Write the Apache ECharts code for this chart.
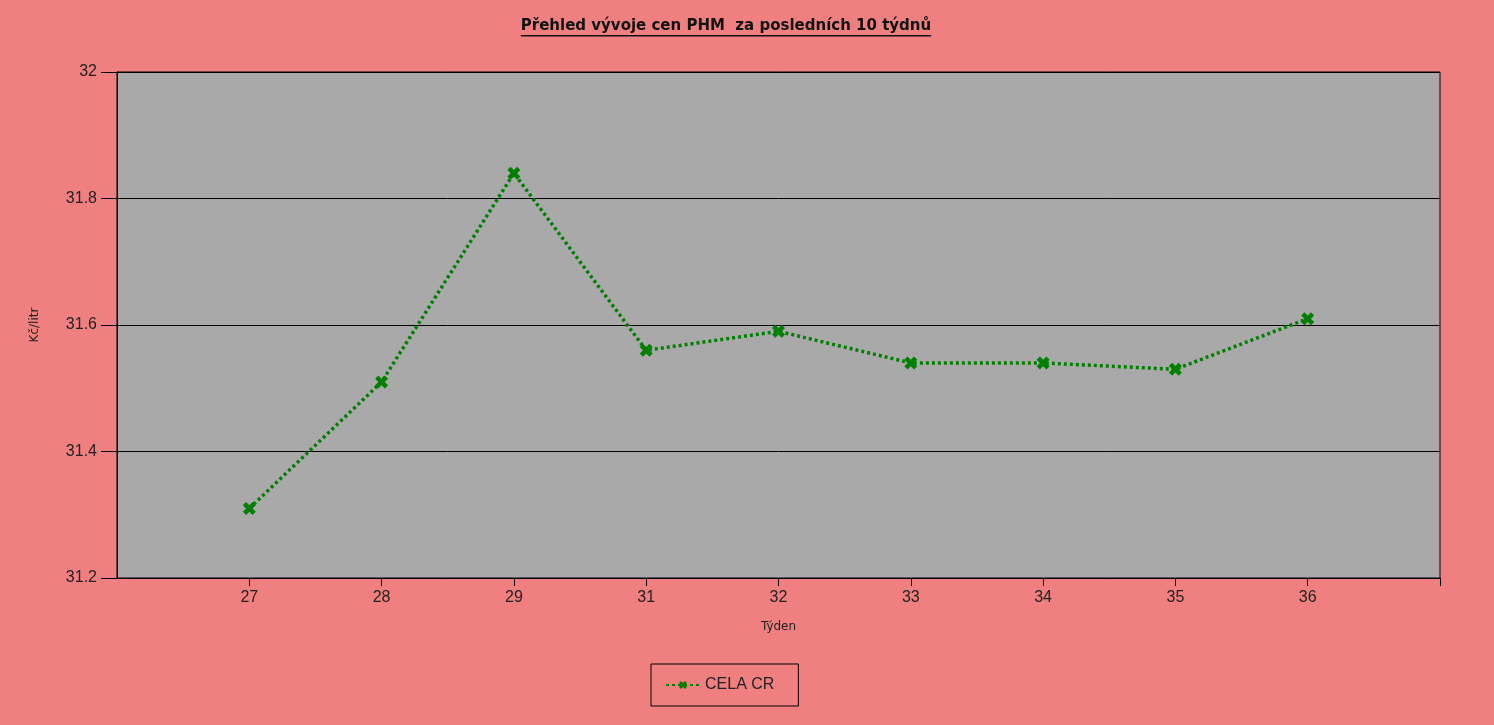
<!DOCTYPE html>
<html>
<head>
<meta charset="utf-8">
<style>
  html, body { margin: 0; padding: 0; background: #F08080; }
  #chart { width: 1494px; height: 725px; }
</style>
<script src="https://cdn.jsdelivr.net/npm/echarts@6/dist/echarts.min.js"></script>
</head>
<body>
<div id="chart"></div>
<script>
const TITLE = 'Přehled vývoje cen PHM  za posledních 10 týdnů';
const weeks = ['27', '28', '29', '31', '32', '33', '34', '35', '36'];
const prices = [31.31, 31.51, 31.84, 31.56, 31.59, 31.54, 31.54, 31.53, 31.61];
const seriesName = 'CELA CR';

// one empty slot at each end, the axis runs half a step past the data on both sides
const categories = [''].concat(weeks, ['']);
const values = [null].concat(prices, [null]);

const X_MARK = 'path://M2.5,0 L5,2.5 L7.5,0 L10,2.5 L7.5,5 L10,7.5 L7.5,10 L5,7.5 L2.5,10 L0,7.5 L2.5,5 L0,2.5 Z';
const titleFont = 'bold 15px "DejaVu Sans"';

function textWidth(text, font) {
  const ctx = document.createElement('canvas').getContext('2d');
  ctx.font = font;
  return ctx.measureText(text).width;
}

const titleW = textWidth(TITLE, titleFont);
const chart = echarts.init(document.getElementById('chart'));

chart.setOption({
  backgroundColor: '#F08080',
  animation: false,
  graphic: [
    {
      type: 'group',
      left: 726 - titleW / 2,
      top: 19,
      children: [
        {
          type: 'text',
          left: 0,
          top: 0,
          style: {
            text: TITLE,
            font: titleFont,
            fill: '#111'
          }
        },
        {
          type: 'rect',
          shape: { x: 0, y: 16, width: titleW, height: 1.5 },
          style: { fill: '#111' }
        }
      ]
    }
  ],
  grid: {
    left: 117,
    right: 54,
    top: 72,
    bottom: 147,
    show: true,
    backgroundColor: '#A9A9A9',
    borderColor: '#000',
    borderWidth: 1
  },
  legend: {
    bottom: 19,
    left: 651,
    data: [seriesName],
    borderColor: '#000',
    borderWidth: 1,
    padding: [13, 24, 13, 14],
    itemWidth: 34,
    itemHeight: 10,
    itemGap: 8,
    textStyle: { fontFamily: 'Liberation Sans', fontSize: 16, color: '#222' }
  },
  xAxis: {
    type: 'category',
    data: categories,
    boundaryGap: false,
    name: 'Týden',
    nameLocation: 'middle',
    nameGap: 43,
    nameTextStyle: { fontFamily: 'DejaVu Sans', fontSize: 12, color: '#222' },
    axisLine: { lineStyle: { color: '#000', width: 1 } },
    axisTick: {
      length: 8,
      interval: (i) => i !== 0,
      lineStyle: { color: '#000' }
    },
    axisLabel: {
      interval: 0,
      fontFamily: 'Liberation Sans',
      fontSize: 16,
      color: '#222',
      margin: 12
    },
    splitLine: { show: false }
  },
  yAxis: {
    type: 'value',
    min: 31.2,
    max: 32,
    interval: 0.2,
    name: 'Kč/litr',
    nameLocation: 'middle',
    nameGap: 76,
    nameRotate: 90,
    nameTextStyle: { fontFamily: 'DejaVu Sans', fontSize: 12, color: '#222' },
    axisLine: { show: true, lineStyle: { color: '#000', width: 1 } },
    axisTick: { show: true, length: 16, lineStyle: { color: '#000' } },
    axisLabel: {
      fontFamily: 'Liberation Sans',
      fontSize: 16,
      color: '#222',
      margin: 20
    },
    splitLine: { show: true, lineStyle: { color: '#000', width: 1 } }
  },
  series: [
    {
      name: seriesName,
      type: 'line',
      data: values,
      smooth: false,
      symbol: X_MARK,
      symbolSize: 13,
      showAllSymbol: true,
      itemStyle: { color: '#008000' },
      lineStyle: { color: '#008000', width: 3.5, type: [3, 3] }
    }
  ]
});
</script>
</body>
</html>
